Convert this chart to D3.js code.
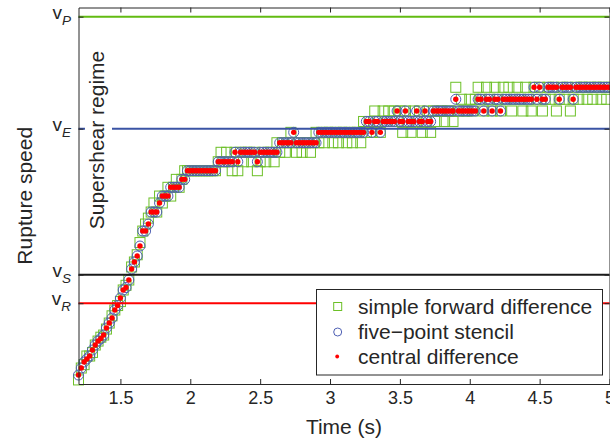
<!DOCTYPE html>
<html>
<head>
<meta charset="utf-8">
<script src="https://cdn.jsdelivr.net/npm/d3@7"></script>
<style>
  body { margin: 0; background: #fff; }
  svg { display: block; }
  text { font-family: "Liberation Sans", Arial, Helvetica, sans-serif; fill: #262626; }
</style>
</head>
<body>
<svg id="chart" width="610" height="440"></svg>
<script>
// Sampling of the rupture-front speed estimates (s)
const tStart = 1.2;
const tStep = 0.02;

// Rupture speed (m/s) from the central-difference estimate
const central = [
  2478, 2547, 2606, 2636, 2665, 2724, 2773, 2812, 2837, 2871,
  2940, 2989, 3038, 3117, 3161, 3235, 3314, 3338, 3412, 3520,
  3589, 3648, 3746, 3893, 3893, 3962, 4080, 4080, 4080, 4169,
  4237, 4237, 4237, 4323, 4323, 4323, 4323, 4401, 4401, 4486,
  4486, 4486, 4486, 4486, 4486, 4486, 4486, 4486, 4486, 4486,
  4574, 4574, 4574, 4574, 4574, 4574, 4667, 4574, 4667, 4667,
  4667, 4667, 4667, 4667, 4574, 4667, 4667, 4667, 4667, 4667,
  4667, 4667, 4761, 4761, 4761, 4761, 4761, 4863, 4761, 4761,
  4761, 4761, 4761, 4761, 4761, 4761, 4863, 4863, 4863, 4863,
  4863, 4863, 4863, 4863, 4863, 4863, 4863, 4863, 4863, 4863,
  4863, 4863, 4863, 4970, 4970, 4863, 4970, 4970, 4863, 4970,
  4970, 4970, 4970, 4970, 5073, 4970, 4970, 5073, 4970, 4970,
  4970, 5073, 4970, 4970, 5073, 4970, 4970, 5073, 5073, 5073,
  5073, 5073, 5073, 5073, 5073, 5188, 5073, 5073, 5073, 5073,
  5073, 5073, 5073, 5188, 5188, 5073, 5188, 5188, 5073, 5188,
  5188, 5073, 5188, 5188, 5188, 5188, 5188, 5188, 5188, 5188,
  5188, 5188, 5188, 5306, 5188, 5306, 5188, 5188, 5306, 5306,
  5306, 5306, 5188, 5306, 5306, 5306, 5306, 5188, 5306, 5306,
  5306, 5306, 5306, 5306, 5306, 5306, 5306, 5306, 5306, 5306,
  5306
];

// Rupture speed (m/s) from the five-point stencil
const stencil = [
  2478, 2547, 2606, 2636, 2665, 2724, 2773, 2812, 2837, 2871,
  2940, 2989, 3038, 3117, 3161, 3235, 3314, 3338, 3412, 3520,
  3589, 3648, 3746, 3893, 3893, 3962, 4080, 4080, 4080, 4169,
  4237, 4237, 4237, 4323, 4323, 4323, 4323, 4401, 4401, 4486,
  4486, 4486, 4486, 4486, 4486, 4486, 4486, 4486, 4486, 4486,
  4574, 4574, 4574, 4574, 4574, 4574, 4667, 4574, 4667, 4667,
  4667, 4667, 4667, 4667, 4574, 4667, 4667, 4667, 4667, 4667,
  4667, 4667, 4761, 4761, 4761, 4761, 4761, 4863, 4761, 4761,
  4761, 4761, 4761, 4761, 4761, 4761, 4863, 4863, 4863, 4863,
  4863, 4863, 4863, 4863, 4863, 4863, 4863, 4863, 4863, 4863,
  4863, 4863, 4863, 4970, 4970, 4863, 4970, 4970, 4863, 4970,
  4970, 4970, 4970, 4970, 5073, 4970, 4970, 5073, 4970, 4970,
  4970, 5073, 4970, 4970, 5073, 4970, 4970, 5073, 5073, 5073,
  5073, 5073, 5073, 5073, 5073, 5188, 5073, 5073, 5073, 5073,
  5073, 5073, 5073, 5188, 5188, 5073, 5188, 5188, 5073, 5188,
  5188, 5073, 5188, 5188, 5188, 5188, 5188, 5188, 5188, 5188,
  5188, 5188, 5188, 5306, 5188, 5306, 5188, 5188, 5306, 5306,
  5306, 5306, 5188, 5306, 5306, 5306, 5306, 5188, 5306, 5306,
  5306, 5306, 5306, 5306, 5306, 5306, 5306, 5306, 5306, 5306,
  5306
];

// Rupture speed (m/s) from the simple forward difference
const forward = [
  2430, 2547, 2580, 2665, 2665, 2700, 2773, 2812, 2850, 2871,
  2930, 2989, 3060, 3117, 3161, 3200, 3314, 3360, 3412, 3540,
  3589, 3660, 3780, 3893, 3962, 4020, 4080, 4169, 4080, 4237,
  4169, 4237, 4323, 4237, 4323, 4401, 4323, 4401, 4486, 4486,
  4486, 4486, 4486, 4486, 4486, 4486, 4486, 4486, 4486, 4486,
  4574, 4667, 4574, 4667, 4574, 4486, 4667, 4486, 4667, 4574,
  4667, 4667, 4574, 4667, 4486, 4574, 4667, 4574, 4667, 4667,
  4574, 4761, 4667, 4761, 4667, 4761, 4863, 4761, 4667, 4761,
  4667, 4761, 4761, 4667, 4761, 4863, 4761, 4863, 4761, 4863,
  4863, 4761, 4863, 4761, 4863, 4863, 4761, 4863, 4761, 4863,
  4863, 4761, 4970, 4863, 4970, 4863, 5073, 4970, 4863, 5073,
  4970, 5073, 4970, 5073, 4970, 5073, 4863, 5073, 4970, 4863,
  5073, 4970, 5073, 4863, 4970, 5073, 4863, 5073, 4970, 5073,
  5073, 4970, 5073, 5073, 4970, 5306, 5073, 5188, 5073, 5073,
  5188, 5073, 5188, 5306, 5188, 5073, 5306, 5188, 5073, 5306,
  5188, 5073, 5306, 5188, 5306, 5073, 5188, 5306, 5188, 5073,
  5306, 5188, 5073, 5306, 5188, 5306, 5073, 5188, 5306, 5188,
  5306, 5073, 5188, 5306, 5188, 5306, 5073, 5188, 5306, 5188,
  5306, 5306, 5188, 5306, 5188, 5306, 5306, 5188, 5306, 5188,
  5306
];

// Reference wave speeds (m/s): P wave, Eshelby, S wave, Rayleigh
const refKeys = ["P", "E", "S", "R"];
const refSpeeds = [6000, 4899, 3464, 3184];

const xTicks = [1.5, 2, 2.5, 3, 3.5, 4, 4.5, 5];
const xTickLabels = ["1.5", "2", "2.5", "3", "3.5", "4", "4.5", "5"];

const seriesNames = ["simple forward difference", "five\u2212point stencil", "central difference"];

// ---- styles ----
const refColor = { P: "#62bb12", E: "#3a53a4", S: "#1a1a1a", R: "#ff0000" };
const squareColor = "#6cc027";
const circleColor = "#4f60b4";
const dotColor = "#ff0000";
const axisColor = "#262626";

const svg = d3.select("#chart");
const plot = { left: 78.5, right: 609.5, top: 7.5, bottom: 384 };

const x = d3.scaleLinear().domain([1.2, 5]).range([plot.left, plot.right]);
const y = d3.scaleLinear().domain([2390, 6090]).range([plot.bottom, plot.top]);

const times = central.map((_, i) => tStart + i * tStep);
const pts = (arr) => arr.map((v, i) => ({ t: times[i], v }));

// ---- data markers ----
const gData = svg.append("g");
const sq = 10;
gData.selectAll("rect.fwd").data(pts(forward)).join("rect")
  .attr("class", "fwd")
  .attr("x", d => x(d.t) - sq / 2).attr("y", d => y(d.v) - sq / 2)
  .attr("width", sq).attr("height", sq)
  .attr("fill", "none").attr("stroke", squareColor).attr("stroke-width", 1);

gData.selectAll("circle.five").data(pts(stencil)).join("circle")
  .attr("class", "five")
  .attr("cx", d => x(d.t)).attr("cy", d => y(d.v)).attr("r", 5)
  .attr("fill", "none").attr("stroke", circleColor).attr("stroke-width", 1);

gData.selectAll("circle.cen").data(pts(central)).join("circle")
  .attr("class", "cen")
  .attr("cx", d => x(d.t)).attr("cy", d => y(d.v)).attr("r", 2.7)
  .attr("fill", dotColor);

// ---- reference speed lines ----
svg.append("g").selectAll("line").data(refKeys).join("line")
  .attr("x1", plot.left).attr("x2", plot.right)
  .attr("y1", (k, i) => y(refSpeeds[i])).attr("y2", (k, i) => y(refSpeeds[i]))
  .attr("stroke", k => refColor[k]).attr("stroke-width", 2);

// ---- axes (box with inward ticks) ----
function styleAxis(g) {
  g.selectAll("path").attr("stroke", axisColor).attr("stroke-width", 1);
  g.selectAll("line").attr("stroke", axisColor).attr("stroke-width", 1);
  g.selectAll("text").attr("fill", axisColor).style("font-size", "18px")
    .style("font-family", '"Liberation Sans", Arial, Helvetica, sans-serif');
}

svg.append("g").attr("transform", `translate(0,${plot.bottom})`)
  .call(d3.axisBottom(x).tickValues(xTicks).tickSize(-5).tickSizeOuter(0)
    .tickPadding(7).tickFormat((d, i) => xTickLabels[i]))
  .call(styleAxis);

svg.append("g").attr("transform", `translate(0,${plot.top})`)
  .call(d3.axisTop(x).tickValues(xTicks).tickSize(-5).tickSizeOuter(0).tickFormat(""))
  .call(styleAxis);

svg.append("g").attr("transform", `translate(${plot.left},0)`)
  .call(d3.axisLeft(y).tickValues(refSpeeds).tickSize(-5).tickSizeOuter(0).tickFormat(""))
  .call(styleAxis);

svg.append("g").attr("transform", `translate(${plot.right},0)`)
  .call(d3.axisRight(y).tickValues(refSpeeds).tickSize(-5).tickSizeOuter(0).tickFormat(""))
  .call(styleAxis);

// y tick labels: v with subscript
const yl = svg.append("g").selectAll("text").data(refKeys).join("text")
  .attr("x", 71).attr("y", (k, i) => y(refSpeeds[i]) + 2)
  .attr("text-anchor", "end");
yl.append("tspan").text("v").style("font-size", "19px");
yl.append("tspan").text(k => k).attr("dy", 6)
  .style("font-size", "13.5px").style("font-style", "italic");

// ---- axis titles ----
svg.append("text").attr("x", (plot.left + plot.right) / 2).attr("y", 434)
  .attr("text-anchor", "middle").style("font-size", "21px").text("Time (s)");

svg.append("text")
  .attr("transform", `translate(32,${(plot.top + plot.bottom) / 2}) rotate(-90)`)
  .attr("text-anchor", "middle").style("font-size", "21px").text("Rupture speed");

// ---- regime annotation ----
svg.append("rect").attr("x", 85).attr("y", 46).attr("width", 27).attr("height", 188)
  .attr("fill", "#fff");
svg.append("text")
  .attr("transform", "translate(103.5,140) rotate(-90)")
  .attr("text-anchor", "middle").style("font-size", "21px").text("Supershear regime");

// ---- legend ----
const lg = svg.append("g");
lg.append("rect").attr("x", 316.5).attr("y", 289.5).attr("width", 286).attr("height", 85.5)
  .attr("fill", "#fff").attr("stroke", axisColor).attr("stroke-width", 1);
const rowY = [306.5, 332, 356.5];
lg.append("rect").attr("x", 337.7 - 4).attr("y", rowY[0] - 4).attr("width", 8).attr("height", 8)
  .attr("fill", "none").attr("stroke", squareColor);
lg.append("circle").attr("cx", 337.7).attr("cy", rowY[1]).attr("r", 4)
  .attr("fill", "none").attr("stroke", circleColor);
lg.append("circle").attr("cx", 337.2).attr("cy", rowY[2]).attr("r", 1.9)
  .attr("fill", dotColor);
lg.selectAll("text").data(seriesNames).join("text")
  .attr("x", 358).attr("y", (d, i) => rowY[i] + 7)
  .style("font-size", "21px").text(d => d);
</script>
</body>
</html>
